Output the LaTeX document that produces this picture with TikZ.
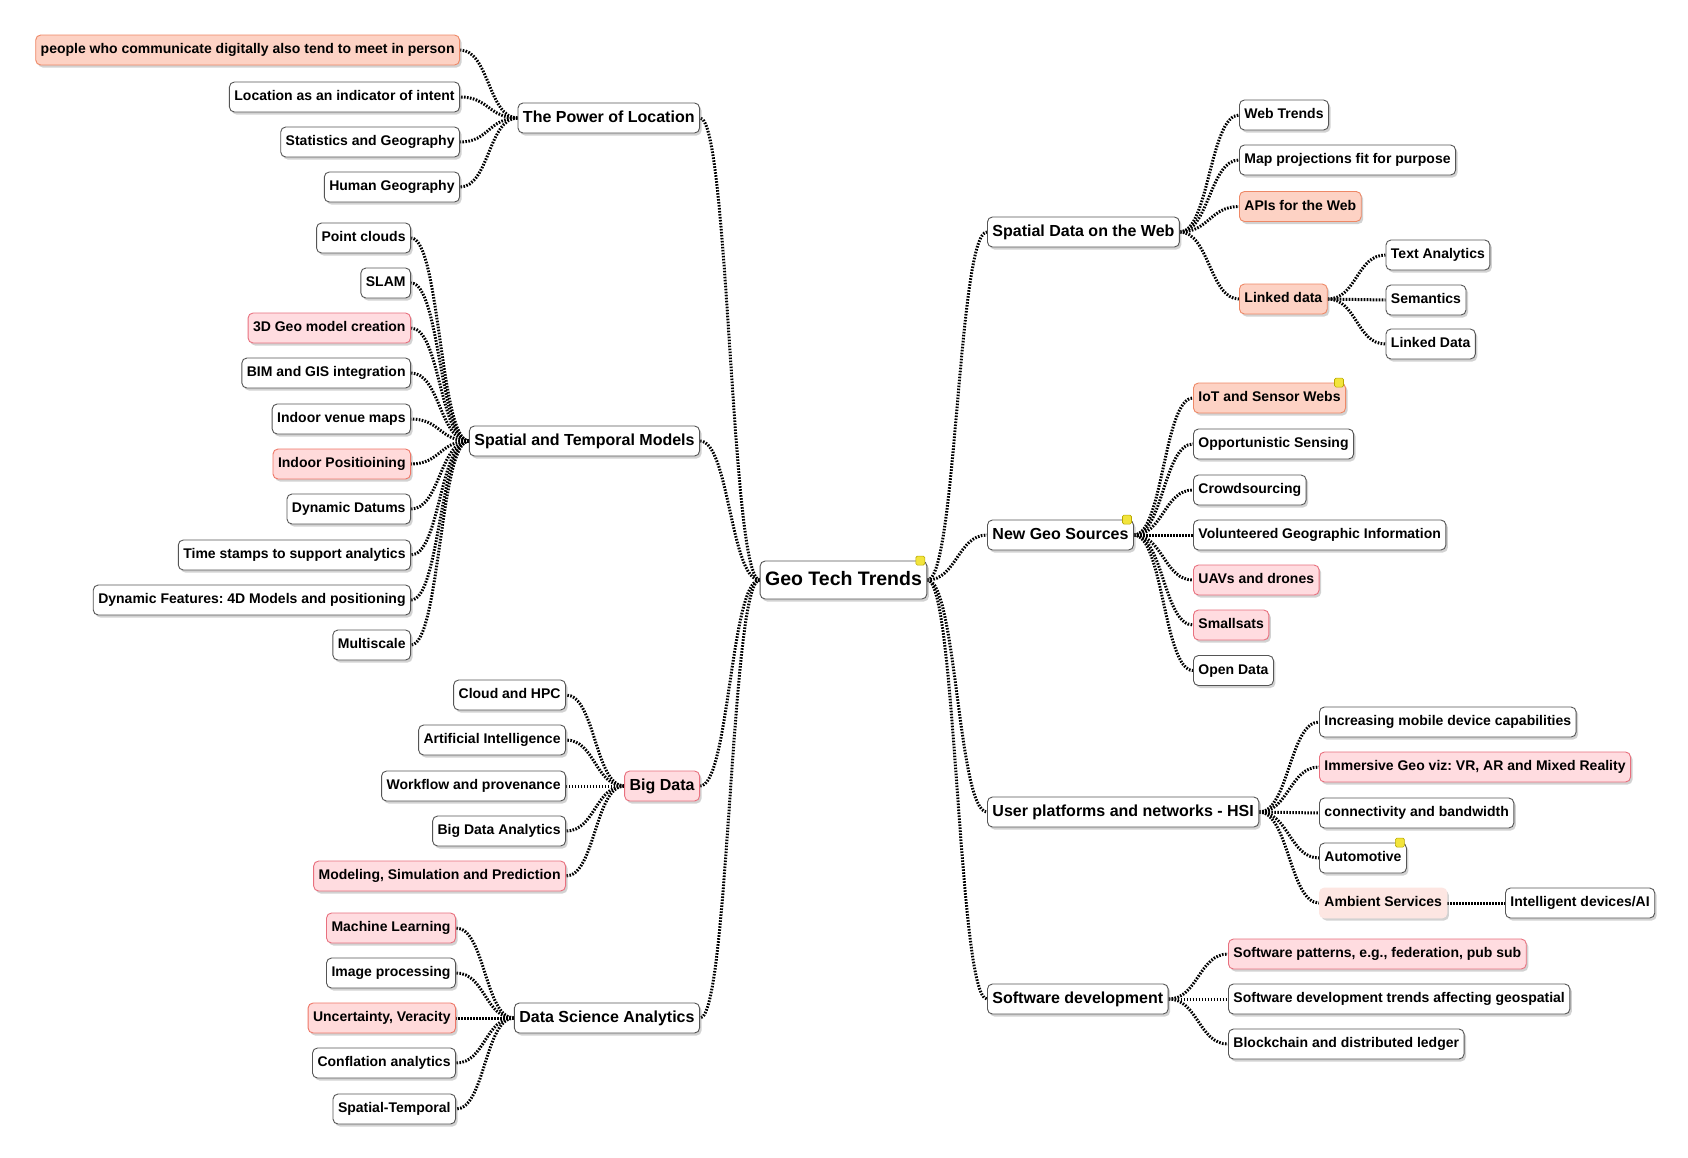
\documentclass[tikz,border=0pt]{standalone}
\usepackage{fontspec}
\setmainfont{Liberation Sans}
\usetikzlibrary{shadows,calc}
\definecolor{pinkfill}{HTML}{FFDCE0}
\definecolor{pinkdraw}{HTML}{E8707E}
\definecolor{salfill}{HTML}{FDD2C4}
\definecolor{saldraw}{HTML}{EE8866}
\definecolor{redfill}{HTML}{FFDADA}
\definecolor{reddraw}{HTML}{EE7666}
\definecolor{ambfill}{HTML}{FDE6E2}
\definecolor{boxdraw}{HTML}{555555}
\definecolor{notefill}{HTML}{F2E43C}
\definecolor{notedraw}{HTML}{B8A800}
\pgfdeclarelayer{bgfill}
\pgfdeclarelayer{bgconn}
\pgfsetlayers{bgfill,bgconn,main}
\newcommand{\connL}[2]{\draw[conn] (#1.west) .. controls +(-29,0) and +(29,0) .. (#2.east);}
\newcommand{\connR}[2]{\draw[conn] (#1.east) .. controls +(29,0) and +(-29,0) .. (#2.west);}
\frenchspacing
\begin{document}
\begin{tikzpicture}[x=1pt,y=-1pt,
  base/.style={rounded corners=5pt, draw=boxdraw, line width=0.9pt, fill=white,
    inner xsep=5pt, inner ysep=0pt, minimum height=30pt, text height=10.5pt, text depth=3pt,
    font=\fontsize{14}{16}\selectfont\bfseries\frenchspacing,
    drop shadow={shadow xshift=2pt, shadow yshift=-2.5pt, opacity=0.35}},
  leaf/.style={base},
  branch/.style={base, font=\fontsize{16}{18}\selectfont\bfseries, text height=12pt, text depth=3.5pt},
  rootbox/.style={base, font=\fontsize{19.5}{22}\selectfont\bfseries, minimum height=38pt, text height=14.5pt, text depth=4pt},
  pinkbox/.style={fill=pinkfill, draw=pinkdraw},
  salbox/.style={fill=salfill, draw=saldraw},
  redbox/.style={fill=redfill, draw=reddraw},
  ambbox/.style={fill=ambfill, draw=ambfill},
  conn/.style={draw=black, line width=3pt, dash pattern=on 1.6pt off 1.4pt},
  note/.style={fill=notefill, draw=notedraw, line width=0.6pt, minimum size=9pt, inner sep=0pt, rounded corners=1.5pt}
]
\useasboundingbox (0,-2) rectangle (1688,1155);
\begin{pgfonlayer}{bgfill}
\fill[white] (0,-2) rectangle (1688,1155);
\end{pgfonlayer}

% root
\node[rootbox, anchor=center] (root) at (843.5,578) {Geo Tech Trends};

% left branches
\node[branch, anchor=east] (pow) at (700,116) {The Power of Location};
\node[branch, anchor=east] (stm) at (700,439) {Spatial and Temporal Models};
\node[branch, pinkbox, anchor=east] (big) at (700,784) {Big Data};
\node[branch, anchor=east] (dsa) at (700,1016) {Data Science Analytics};

% power of location
\node[leaf, salbox, anchor=east] (p1) at (460,48) {people who communicate digitally also tend to meet in person};
\node[leaf, anchor=east] (p2) at (460,95) {Location as an indicator of intent};
\node[leaf, anchor=east] (p3) at (460,140) {Statistics and Geography};
\node[leaf, anchor=east] (p4) at (460,185) {Human Geography};

% spatial and temporal models
\node[leaf, anchor=east] (s1) at (411,236) {Point clouds};
\node[leaf, anchor=east] (s2) at (411,281) {SLAM};
\node[leaf, pinkbox, anchor=east] (s3) at (411,326) {3D Geo model creation};
\node[leaf, anchor=east] (s4) at (411,371) {BIM and GIS integration};
\node[leaf, anchor=east] (s5) at (411,417) {Indoor venue maps};
\node[leaf, redbox, anchor=east] (s6) at (411,462) {Indoor Positioining};
\node[leaf, anchor=east] (s7) at (411,507) {Dynamic Datums};
\node[leaf, anchor=east] (s8) at (411,553) {Time stamps to support analytics};
\node[leaf, anchor=east] (s9) at (411,598) {Dynamic Features: 4D Models and positioning};
\node[leaf, anchor=east] (s10) at (411,643) {Multiscale};

% big data
\node[leaf, anchor=east] (b1) at (566,693) {Cloud and HPC};
\node[leaf, anchor=east] (b2) at (566,738) {Artificial Intelligence};
\node[leaf, anchor=east] (b3) at (566,784) {Workflow and provenance};
\node[leaf, anchor=east] (b4) at (566,829) {Big Data Analytics};
\node[leaf, pinkbox, anchor=east] (b5) at (566,874) {Modeling, Simulation and Prediction};

% data science analytics
\node[leaf, pinkbox, anchor=east] (d1) at (456,926) {Machine Learning};
\node[leaf, anchor=east] (d2) at (456,971) {Image processing};
\node[leaf, redbox, anchor=east] (d3) at (456,1016) {Uncertainty, Veracity};
\node[leaf, anchor=east] (d4) at (456,1061) {Conflation analytics};
\node[leaf, anchor=east] (d5) at (456,1107) {Spatial-Temporal};

% right branches
\node[branch, anchor=west] (sdw) at (987,230) {Spatial Data on the Web};
\node[branch, anchor=west] (ngs) at (987,533) {New Geo Sources};
\node[branch, anchor=west] (upn) at (987,810) {User platforms and networks - HSI};
\node[branch, anchor=west] (swd) at (987,997) {Software development};

% spatial data on the web
\node[leaf, anchor=west] (w1) at (1239,113) {Web Trends};
\node[leaf, anchor=west] (w2) at (1239,158) {Map projections fit for purpose};
\node[leaf, salbox, anchor=west] (w3) at (1239,204.5) {APIs for the Web};
\node[leaf, salbox, anchor=west] (w4) at (1239,297) {Linked data};
\node[leaf, anchor=west] (l1) at (1385.5,253) {Text Analytics};
\node[leaf, anchor=west] (l2) at (1385.5,298) {Semantics};
\node[leaf, anchor=west] (l3) at (1385.5,342) {Linked Data};

% new geo sources
\node[leaf, salbox, anchor=west] (n1) at (1193,396) {IoT and Sensor Webs};
\node[leaf, anchor=west] (n2) at (1193,442) {Opportunistic Sensing};
\node[leaf, anchor=west] (n3) at (1193,488) {Crowdsourcing};
\node[leaf, anchor=west] (n4) at (1193,533) {Volunteered Geographic Information};
\node[leaf, pinkbox, anchor=west] (n5) at (1193,578) {UAVs and drones};
\node[leaf, pinkbox, anchor=west] (n6) at (1193,623) {Smallsats};
\node[leaf, anchor=west] (n7) at (1193,668.5) {Open Data};

% user platforms
\node[leaf, anchor=west] (u1) at (1319,720) {Increasing mobile device capabilities};
\node[leaf, pinkbox, anchor=west] (u2) at (1319,765) {Immersive Geo viz: VR, AR and Mixed Reality};
\node[leaf, anchor=west] (u3) at (1319,811) {connectivity and bandwidth};
\node[leaf, anchor=west] (u4) at (1319,856) {Automotive};
\node[leaf, ambbox, anchor=west] (u5) at (1319,901) {Ambient Services};
\node[leaf, anchor=west] (u6) at (1505,901) {Intelligent devices/AI};

% software development
\node[leaf, pinkbox, anchor=west] (f1) at (1228,952) {Software patterns, e.g., federation, pub sub};
\node[leaf, anchor=west] (f2) at (1228,997) {Software development trends affecting geospatial};
\node[leaf, anchor=west] (f3) at (1228,1042) {Blockchain and distributed ledger};

% note markers
\node[note] (m1) at ([xshift=-7pt]root.north east) {};
\node[note] (m2) at ([xshift=-7pt]ngs.north east) {};
\node[note] (m3) at ([xshift=-7pt]n1.north east) {};
\node[note] (m4) at ([xshift=-7pt]u4.north east) {};

% connectors
\begin{pgfonlayer}{bgconn}
\connL{root}{pow}
\connL{root}{stm}
\connL{root}{big}
\connL{root}{dsa}
\connR{root}{sdw}
\connR{root}{ngs}
\connR{root}{upn}
\connR{root}{swd}
\foreach \c in {p1,p2,p3,p4} {\connL{pow}{\c}}
\foreach \c in {s1,s2,s3,s4,s5,s6,s7,s8,s9,s10} {\connL{stm}{\c}}
\foreach \c in {b1,b2,b3,b4,b5} {\connL{big}{\c}}
\foreach \c in {d1,d2,d3,d4,d5} {\connL{dsa}{\c}}
\foreach \c in {w1,w2,w3,w4} {\connR{sdw}{\c}}
\foreach \c in {l1,l2,l3} {\connR{w4}{\c}}
\foreach \c in {n1,n2,n3,n4,n5,n6,n7} {\connR{ngs}{\c}}
\foreach \c in {u1,u2,u3,u4,u5} {\connR{upn}{\c}}
\foreach \c in {f1,f2,f3} {\connR{swd}{\c}}
\draw[conn] (u5.east) -- (u6.west);
\end{pgfonlayer}
\end{tikzpicture}
\end{document}
